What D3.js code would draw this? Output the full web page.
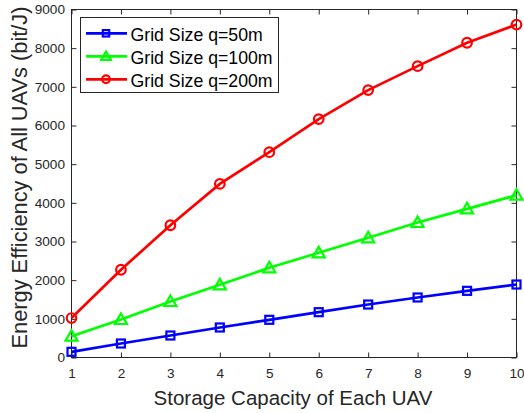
<!DOCTYPE html>
<html><head><meta charset="utf-8">
<script src="https://cdn.jsdelivr.net/npm/d3@7"></script>
<style>body{margin:0;background:#fff}text{font-family:"Liberation Sans",Arial,sans-serif}</style>
</head><body>
<svg id="c" width="524" height="413"></svg>
<script>
const categories = [1,2,3,4,5,6,7,8,9,10];
const q50 = [147,362,569,776,975,1172,1370,1552,1724,1888];
const q100 = [551,983,1448,1880,2320,2707,3095,3491,3845,4197];
const q200 = [1020,2270,3420,4490,5310,6165,6915,7535,8140,8610];
const yTicks = [0,1000,2000,3000,4000,5000,6000,7000,8000,9000];
const seriesNames = ["Grid Size q=50m","Grid Size q=100m","Grid Size q=200m"];

const svg = d3.select("#c");
const L=71.5, R=516.5, T=9.5, B=357.5;
const x = d3.scaleLinear().domain([1,10]).range([L,R]);
const y = d3.scaleLinear().domain([0,9000]).range([B,T]);
const axisColor="#262626";

svg.append("rect").attr("x",L).attr("y",T).attr("width",R-L).attr("height",B-T)
  .attr("fill","none").attr("stroke",axisColor).attr("stroke-width",1);

function styleAxis(g){
  g.select(".domain").remove();
  g.selectAll(".tick line").attr("stroke",axisColor);
  g.selectAll(".tick text").attr("fill",axisColor).style("font-size","13.6px").style("font-family","'Liberation Sans',Arial,sans-serif");
}
svg.append("g").attr("transform",`translate(0,${B})`)
  .call(d3.axisBottom(x).tickValues(categories).tickSize(-5).tickPadding(11).tickFormat(d3.format("d")))
  .call(styleAxis);
svg.append("g").attr("transform",`translate(0,${T})`)
  .call(d3.axisTop(x).tickValues(categories).tickSize(-5).tickFormat(""))
  .call(styleAxis);
svg.append("g").attr("transform",`translate(${L},0)`)
  .call(d3.axisLeft(y).tickValues(yTicks).tickSize(-5).tickPadding(6.5).tickFormat(d3.format("d")))
  .call(styleAxis);
svg.append("g").attr("transform",`translate(${R},0)`)
  .call(d3.axisRight(y).tickValues(yTicks).tickSize(-5).tickFormat(""))
  .call(styleAxis);

const series = [
  {name:seriesNames[0], vals:q50, color:"#0000ff", marker:"square"},
  {name:seriesNames[1], vals:q100, color:"#00ff00", marker:"triangle"},
  {name:seriesNames[2], vals:q200, color:"#ff0000", marker:"circle"}
];
function drawMarker(g, type, cx, cy, color, k){
  k = k || 1;
  if(type==="square"){
    const h=4*k;
    g.append("rect").attr("x",cx-h).attr("y",cy-h).attr("width",2*h).attr("height",2*h)
      .attr("fill","none").attr("stroke",color).attr("stroke-width",2.2);
  } else if(type==="triangle"){
    const s=6*k;
    g.append("path").attr("d",`M${cx},${cy-s}L${cx+s},${cy+s*0.75}L${cx-s},${cy+s*0.75}Z`)
      .attr("fill","none").attr("stroke",color).attr("stroke-width",2.2);
  } else {
    g.append("circle").attr("cx",cx).attr("cy",cy).attr("r",4.8*k)
      .attr("fill","none").attr("stroke",color).attr("stroke-width",2.2);
  }
}
const line = d3.line().x((d,i)=>x(categories[i])).y(d=>y(d));
series.forEach(s=>{
  const g = svg.append("g");
  g.append("path").attr("d",line(s.vals)).attr("fill","none").attr("stroke",s.color).attr("stroke-width",2.7);
  s.vals.forEach((v,i)=>drawMarker(g,s.marker,x(categories[i]),y(v),s.color));
});

// legend
const lg = svg.append("g");
lg.append("rect").attr("x",80.5).attr("y",17.5).attr("width",198).attr("height",75)
  .attr("fill","#fff").attr("stroke",axisColor).attr("stroke-width",1);
series.forEach((s,i)=>{
  const yy = 33.3 + i*23;
  lg.append("line").attr("x1",86).attr("x2",127).attr("y1",yy).attr("y2",yy)
    .attr("stroke",s.color).attr("stroke-width",2.7);
  drawMarker(lg,s.marker,106,yy,s.color,0.8);
  lg.append("text").attr("x",130.5).attr("y",yy).attr("dy","0.45em")
    .attr("fill","#000").style("font-size","17.7px").text(s.name);
});

// axis titles
svg.append("text").attr("x",(L+R)/2-1).attr("y",405).attr("text-anchor","middle")
  .attr("fill",axisColor).style("font-size","20.5px").text("Storage Capacity of Each UAV");
svg.append("text").attr("transform",`translate(27,177.5) rotate(-90)`).attr("text-anchor","middle")
  .attr("fill",axisColor).style("font-size","21.8px").text("Energy Efficiency of All UAVs (bit/J)");
</script>
</body></html>
